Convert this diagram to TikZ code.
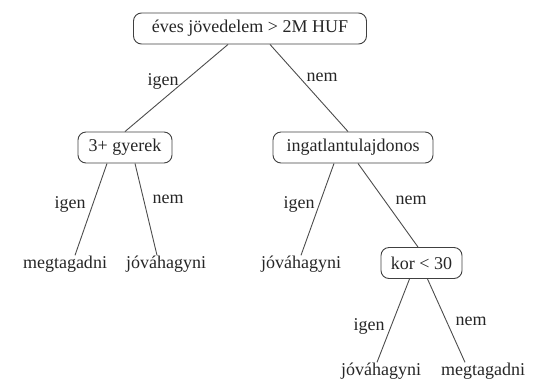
\documentclass[tikz,border=0pt]{standalone}
\usepackage{fontspec}
\setmainfont{Liberation Serif}
\begin{document}
\begin{tikzpicture}[x=1pt,y=-1pt,
  every node/.style={font=\fontsize{18}{21}\selectfont, text=black!85},
  test/.style={draw=black!75, line width=0.9pt, rounded corners=8pt,
    minimum height=31pt, inner xsep=4pt, inner ysep=0pt},
  leaf/.style={inner sep=0pt, anchor=base},
  lbl/.style={inner sep=0pt, anchor=base},
  edge/.style={draw=black!70, line width=0.9pt}]
\useasboundingbox (0,0) rectangle (534,389);

% decision nodes
\node[test, minimum width=233pt] (root) at (250,28.5) {éves jövedelem > 2M HUF};
\node[test, minimum width=94pt]  (kids) at (125,147.5) {3+ gyerek};
\node[test, minimum width=160pt] (home) at (353,147.5) {ingatlantulajdonos};
\node[test, minimum width=81pt]  (age)  at (421.5,263) {kor < 30};

% leaves
\node[leaf] (l1) at (65,268) {megtagadni};
\node[leaf] (l2) at (166,268) {jóváhagyni};
\node[leaf] (l3) at (301,268) {jóváhagyni};
\node[leaf] (l4) at (381,375) {jóváhagyni};
\node[leaf] (l5) at (483,375) {megtagadni};

% branches
\draw[edge] ([xshift=-22pt]root.south) -- (kids.north);
\draw[edge] ([xshift=20pt]root.south) -- ([xshift=-5pt]home.north);
\draw[edge] ([xshift=-18pt]kids.south) -- ([xshift=10pt]l1.north);
\draw[edge] ([xshift=10pt]kids.south) -- ([xshift=-9pt]l2.north);
\draw[edge] ([xshift=-19pt]home.south) -- (l3.north);
\draw[edge] ([xshift=5pt]home.south) -- ([xshift=-3.5pt]age.north);
\draw[edge] ([xshift=-12pt]age.south) -- ([xshift=-4pt]l4.north);
\draw[edge] ([xshift=6pt]age.south) -- ([xshift=-18pt]l5.north);

% branch labels
\node[lbl] (t1) at (163,85) {igen};
\node[lbl] (t2) at (322,81) {nem};
\node[lbl] (t3) at (70,208) {igen};
\node[lbl] (t4) at (168,203) {nem};
\node[lbl] (t5) at (299,208) {igen};
\node[lbl] (t6) at (411,204) {nem};
\node[lbl] (t7) at (369,330) {igen};
\node[lbl] (t8) at (471,325) {nem};
\end{tikzpicture}
\end{document}
